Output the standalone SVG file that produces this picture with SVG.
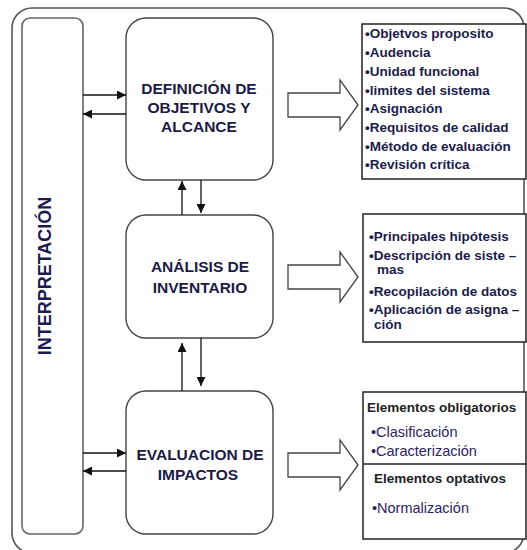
<svg xmlns="http://www.w3.org/2000/svg" width="527" height="550" viewBox="0 0 527 550">
  <style>
    .frame { fill: none; stroke: #555; stroke-width: 1.6; }
    .bar { fill: #fff; stroke: #666; stroke-width: 1.6; }
    .stage { fill: #fff; stroke: #444; stroke-width: 1.4; }
    .stage-label { font-family: "Liberation Sans", Arial, sans-serif; font-weight: bold; font-size: 15.5px; fill: #1b1b45; text-anchor: middle; }
    .vert-label { font-family: "Liberation Sans", Arial, sans-serif; font-weight: bold; font-size: 18px; fill: #1b1b50; text-anchor: middle; }
    .list { fill: #fff; stroke: #222; stroke-width: 1.5; }
    .item { font-family: "Liberation Sans", Arial, sans-serif; font-weight: bold; font-size: 13.5px; fill: #1c1c4a; }
    .head { font-family: "Liberation Sans", Arial, sans-serif; font-weight: bold; font-size: 13.5px; fill: #222; }
    .sub { font-family: "Liberation Sans", Arial, sans-serif; font-size: 14.5px; fill: #2e2260; }
    .link { stroke: #111; stroke-width: 1.3; fill: none; marker-end: url(#tip); }
    .block { fill: #fff; stroke: #444; stroke-width: 1.3; }
  </style>
  <defs>
    <marker id="tip" viewBox="0 0 10 10" refX="10" refY="5" markerWidth="9" markerHeight="9" markerUnits="userSpaceOnUse" orient="auto">
      <path d="M0,0 L10,5 L0,10 Z" fill="#111"/>
    </marker>
    <path id="blockArrow" d="M0,-12 L52,-12 L52,-25 L70,0 L52,25 L52,12 L0,12 Z"/>
  </defs>

  <rect width="527" height="550" fill="#fff"/>

  <!-- outer frame -->
  <rect class="frame" x="12" y="8" width="512" height="545" rx="20"/>

  <!-- interpretation column -->
  <g id="interpretacion">
    <rect class="bar" x="22" y="18" width="61" height="516" rx="8"/>
    <text class="vert-label" transform="translate(51,276) rotate(-90)">INTERPRETACIÓN</text>
  </g>

  <!-- stage boxes -->
  <g id="definicion">
    <rect class="stage" x="126" y="18" width="147" height="162" rx="20"/>
    <text class="stage-label" x="199" y="94">DEFINICIÓN DE</text>
    <text class="stage-label" x="199" y="113">OBJETIVOS Y</text>
    <text class="stage-label" x="199" y="132">ALCANCE</text>
  </g>

  <g id="analisis">
    <rect class="stage" x="126" y="215" width="147" height="123" rx="20"/>
    <text class="stage-label" x="200" y="272">ANÁLISIS DE</text>
    <text class="stage-label" x="200" y="293">INVENTARIO</text>
  </g>

  <g id="evaluacion">
    <rect class="stage" x="126" y="391" width="147" height="143" rx="20"/>
    <text class="stage-label" x="200" y="460">EVALUACION DE</text>
    <text class="stage-label" x="198" y="480">IMPACTOS</text>
  </g>

  <!-- detail lists -->
  <g id="lista-definicion">
    <rect class="list" x="362" y="24" width="164" height="155"/>
    <text class="item" x="365" y="38">•Objetvos proposito</text>
    <text class="item" x="365" y="57">•Audencia</text>
    <text class="item" x="365" y="76">•Unidad funcional</text>
    <text class="item" x="365" y="95">•limites del sistema</text>
    <text class="item" x="365" y="113">•Asignación</text>
    <text class="item" x="365" y="132">•Requisitos de calidad</text>
    <text class="item" x="365" y="151">•Método de evaluación</text>
    <text class="item" x="365" y="169">•Revisión crítica</text>
  </g>

  <g id="lista-analisis">
    <rect class="list" x="363" y="214" width="163" height="128"/>
    <text class="item" x="369" y="241">•Principales hipótesis</text>
    <text class="item" x="369" y="260">•Descripción de siste –</text>
    <text class="item" x="377" y="274">mas</text>
    <text class="item" x="369" y="296">•Recopilación de datos</text>
    <text class="item" x="369" y="314">•Aplicación de asigna –</text>
    <text class="item" x="374" y="329">ción</text>
  </g>

  <g id="lista-evaluacion">
    <rect class="list" x="363" y="392" width="163" height="147"/>
    <line x1="363" y1="464" x2="526" y2="464" stroke="#222" stroke-width="1.5"/>
    <text class="head" x="367" y="412">Elementos obligatorios</text>
    <text class="sub" x="371" y="437">•Clasificación</text>
    <text class="sub" x="371" y="456">•Caracterización</text>
    <text class="head" x="374" y="483">Elementos optativos</text>
    <text class="sub" x="372" y="513">•Normalización</text>
  </g>

  <!-- connectors -->
  <g id="connectors">
    <line class="link" x1="83" y1="95" x2="126" y2="95"/>
    <line class="link" x1="126" y1="114" x2="83" y2="114"/>
    <line class="link" x1="83" y1="453" x2="126" y2="453"/>
    <line class="link" x1="126" y1="471" x2="83" y2="471"/>

    <line class="link" x1="182" y1="215" x2="182" y2="181"/>
    <line class="link" x1="201" y1="180" x2="201" y2="213"/>
    <line class="link" x1="182" y1="391" x2="182" y2="343"/>
    <line class="link" x1="201" y1="338" x2="201" y2="386"/>

    <use href="#blockArrow" class="block" transform="translate(288,105)"/>
    <use href="#blockArrow" class="block" transform="translate(288,277)"/>
    <use href="#blockArrow" class="block" transform="translate(288,465)"/>
  </g>
</svg>
